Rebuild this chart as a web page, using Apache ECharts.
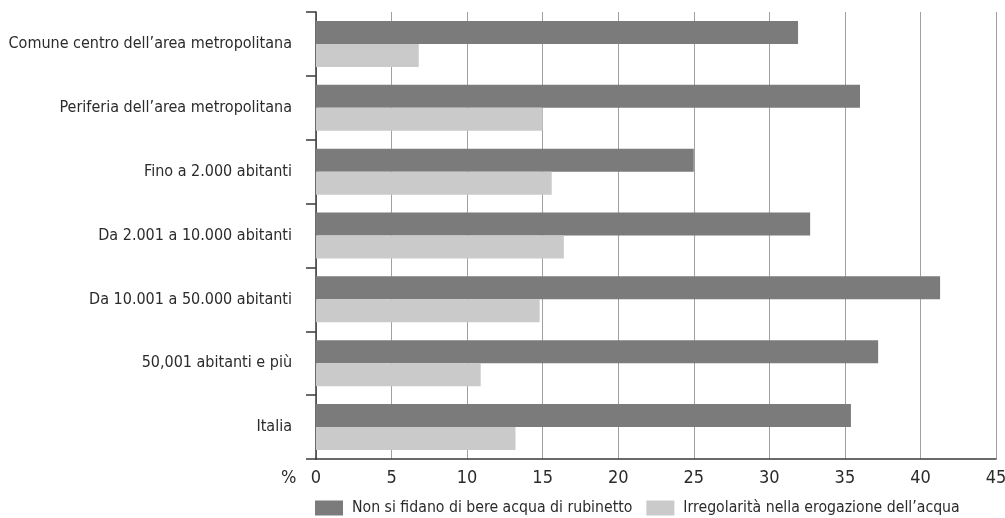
<!DOCTYPE html>
<html>
<head>
<meta charset="utf-8">
<script src="https://cdn.jsdelivr.net/npm/echarts@6/dist/echarts.min.js"></script>
<style>
  html, body { margin: 0; padding: 0; background: #fff; }
  #chart { width: 1005px; height: 518px; }
</style>
</head>
<body>
<div id="chart"></div>
<script>
// categories, top to bottom as in the picture
const categories = [
  'Comune centro dell\u2019area metropolitana',
  'Periferia dell\u2019area metropolitana',
  'Fino a 2.000 abitanti',
  'Da 2.001 a 10.000 abitanti',
  'Da 10.001 a 50.000 abitanti',
  '50,001 abitanti e più',
  'Italia'
]
const nonSiFidano = [31.9, 36.0, 25.0, 32.7, 41.3, 37.2, 35.4]
const irregolarita = [6.8, 15.0, 15.6, 16.4, 14.8, 10.9, 13.2]
const seriesNames = ['Non si fidano di bere acqua di rubinetto', 'Irregolarità nella erogazione dell\u2019acqua']

const font = '"Liberation Sans Narrow", "DejaVu Sans Condensed", sans-serif'

const chart = echarts.init(document.getElementById('chart'))
chart.setOption({
  animation: false,
  textStyle: { fontFamily: font, color: '#2b2b2b' },
  grid: { left: 316, right: 9, top: 12, bottom: 59, containLabel: false, outerBoundsMode: 'none' },
  legend: {
    data: seriesNames,
    left: 310,
    top: 495,
    itemWidth: 28,
    itemHeight: 15,
    itemGap: 14,
    icon: 'rect',
    textStyle: { fontFamily: font, fontSize: 15.7, color: '#2b2b2b', padding: [0, 0, 0, 4] }
  },
  graphic: [
    { type: 'text', left: 281, top: 469, style: { text: '%', font: '18px ' + font, fill: '#2b2b2b' } }
  ],
  xAxis: {
    type: 'value',
    min: 0,
    max: 45,
    interval: 5,
    axisLine: { show: true, lineStyle: { color: '#3a3a3a', width: 1.5 } },
    axisTick: { show: false },
    axisLabel: { fontSize: 18, color: '#2b2b2b', margin: 10, fontFamily: font },
    splitLine: { show: true, lineStyle: { color: '#a0a0a0', width: 1 } }
  },
  yAxis: {
    type: 'category',
    inverse: true,
    data: categories,
    axisLine: { show: true, lineStyle: { color: '#3a3a3a', width: 1.5 } },
    axisTick: { show: true, length: 10, lineStyle: { color: '#3a3a3a', width: 1.5 } },
    axisLabel: { fontSize: 16, color: '#2b2b2b', margin: 24, fontFamily: font }
  },
  series: [
    {
      name: seriesNames[0],
      type: 'bar',
      data: nonSiFidano,
      barWidth: 23,
      barGap: '0%',
      itemStyle: { color: '#7b7b7b' }
    },
    {
      name: seriesNames[1],
      type: 'bar',
      data: irregolarita,
      barWidth: 23,
      barGap: '0%',
      itemStyle: { color: '#cacaca' }
    }
  ]
})
</script>
</body>
</html>
